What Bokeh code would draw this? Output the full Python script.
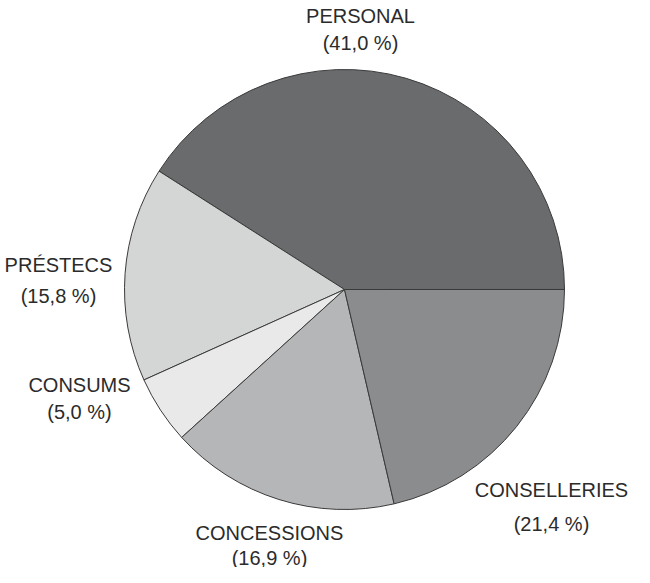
import math
from bokeh.plotting import figure
from bokeh.models import Range1d, ColumnDataSource
from bokeh.core.properties import value
from bokeh.embed import file_html
from bokeh.resources import INLINE

# ---- data ----
categories = ["PERSONAL", "PRÉSTECS", "CONSUMS", "CONCESSIONS", "CONSELLERIES"]
shares = [41.0, 15.8, 5.0, 16.9, 21.4]
colors = ["#696b6d", "#d4d5d5", "#e9e9e9", "#b5b6b7", "#8a8c8e"]

# label placement (data units, pie centre at 0,0)
label_x = [16, -286, -265, -75, 207]
label_y = [274, 25, -95, -243, -200]
line_gap = [27, 31, 27, 25, 34]

# ---- geometry ----
radius = 220
total = sum(shares)
starts, ends = [], []
acc = 0.0
for s in shares:
    starts.append(2 * math.pi * acc / total)
    acc += s
    ends.append(2 * math.pi * acc / total)

src = ColumnDataSource(dict(start=starts, end=ends, color=colors,
                            x=[0] * len(shares), y=[0] * len(shares)))

W, H = 634, 567
p = figure(width=W, height=H, output_backend="svg", toolbar_location=None,
           x_range=Range1d(-344, -344 + W), y_range=Range1d(289 - H, 289),
           min_border=0)
p.axis.visible = False
p.grid.visible = False
p.outline_line_color = None
p.background_fill_color = "white"
p.border_fill_color = "white"

p.wedge(x="x", y="y", radius=radius, start_angle="start", end_angle="end",
        fill_color="color", line_color="#3a3a3a", line_width=1, source=src)

pct = ["(" + f"{s:.1f}".replace(".", ",") + " %)" for s in shares]
lab = ColumnDataSource(dict(
    x=label_x + label_x,
    y=label_y + [y - g for y, g in zip(label_y, line_gap)],
    t=categories + pct,
))
p.text(x="x", y="y", text="t", source=lab, text_font=value("Liberation Sans"),
       text_font_size="20px", text_color="#2b2b2b",
       text_align="center", text_baseline="middle")

open("out.html", "w").write(file_html(p, INLINE))
